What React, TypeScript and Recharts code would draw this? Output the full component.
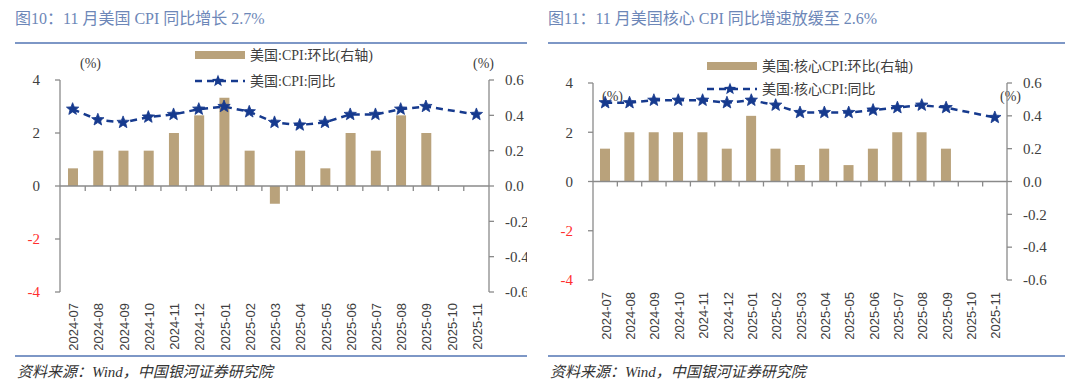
import React from 'react';
import {
  ComposedChart,
  Bar,
  Line,
  XAxis,
  YAxis,
  Legend,
  ReferenceLine,
} from 'recharts';

/* ------------------------------------------------------------------ */
/*  data                                                               */
/* ------------------------------------------------------------------ */
const months = [
  '2024-07', '2024-08', '2024-09', '2024-10', '2024-11', '2024-12',
  '2025-01', '2025-02', '2025-03', '2025-04', '2025-05', '2025-06',
  '2025-07', '2025-08', '2025-09', '2025-10', '2025-11',
];

// 美国 CPI 同比 (左轴) / 环比 (右轴)
const cpiYoY = [2.9, 2.5, 2.4, 2.6, 2.7, 2.9, 3.0, 2.8, 2.4, 2.3, 2.4, 2.7, 2.7, 2.9, 3.0, null, 2.7];
const cpiMoM = [0.1, 0.2, 0.2, 0.2, 0.3, 0.4, 0.5, 0.2, -0.1, 0.2, 0.1, 0.3, 0.2, 0.4, 0.3, null, null];

// 美国核心 CPI 同比 / 环比
const coreYoY = [3.2, 3.2, 3.3, 3.3, 3.3, 3.2, 3.3, 3.1, 2.8, 2.8, 2.8, 2.9, 3.0, 3.1, 3.0, null, 2.6];
const coreMoM = [0.2, 0.3, 0.3, 0.3, 0.3, 0.2, 0.4, 0.2, 0.1, 0.2, 0.1, 0.2, 0.3, 0.3, 0.2, null, null];

const leftTicks = [-4, -2, 0, 2, 4];
const rightTicks = [-0.6, -0.4, -0.2, 0, 0.2, 0.4, 0.6];

const titles = [
  '图10：11 月美国 CPI 同比增长 2.7%',
  '图11：11 月美国核心 CPI 同比增速放缓至 2.6%',
];
const legendNames = [
  ['美国:CPI:环比(右轴)', '美国:CPI:同比'],
  ['美国:核心CPI:环比(右轴)', '美国:核心CPI:同比'],
];
const sourceText = '资料来源：Wind，中国银河证券研究院';

/* ------------------------------------------------------------------ */
/*  styles                                                             */
/* ------------------------------------------------------------------ */
const BAR = '#b9a27b';
const LINE = '#163a8e';
const AXIS = '#8a8a8a';
const TEXT = '#404040';
const RED = '#ff2f2f';
const RULE = '#7d97c6';
const SERIF = '"Liberation Serif", "Noto Sans CJK SC", serif';
const SANS = '"Liberation Sans", Arial, sans-serif';

function starPath(cx: number, cy: number, R: number, r: number) {
  let d = '';
  for (let i = 0; i < 10; i++) {
    const a = -Math.PI / 2 + (i * Math.PI) / 5;
    const rad = i % 2 === 0 ? R : r;
    d += `${i === 0 ? 'M' : 'L'}${(cx + rad * Math.cos(a)).toFixed(2)},${(cy + rad * Math.sin(a)).toFixed(2)}`;
  }
  return d + 'Z';
}

function StarDot(props: any) {
  const { cx, cy, index } = props;
  if (cx == null || cy == null || props.value == null) return <g key={index} />;
  return <path key={index} d={starPath(cx, cy, 6.5, 2.8)} fill={LINE} stroke={LINE} strokeWidth={0.8} />;
}

interface PanelCfg {
  left: number;
  width: number;
  top: number;
  yLeftW: number;
  yRightW: number;
  xAxisH: number;
  labelTop: number;
  legendX: number;
  legendY: number;
  legendGap: number;
  pctL: [number, number];
  pctR: [number, number];
}

function Panel({
  cfg,
  title,
  names,
  yoy,
  mom,
}: {
  cfg: PanelCfg;
  title: string;
  names: string[];
  yoy: (number | null)[];
  mom: (number | null)[];
}) {
  const H = 356;
  const data = months.map((m, i) => ({ month: m, yoy: yoy[i], mom: mom[i] }));
  const plotW = cfg.width - cfg.yLeftW - cfg.yRightW;
  const plotH = H - cfg.top - cfg.xAxisH;
  const zeroY = cfg.top + plotH / 2;
  const bw = plotW / months.length;

  const XTick = (p: any) => {
    const { x, payload, index } = p;
    return (
      <g>
        <text
          transform={`translate(${x + 1},${cfg.labelTop}) rotate(-90)`}
          textAnchor="end"
          dy="0.35em"
          fontSize={13}
          fill={TEXT}
          fontFamily={SANS}
        >
          {payload.value}
        </text>
        {index > 0 && (
          <line x1={x - bw / 2} x2={x - bw / 2} y1={zeroY} y2={zeroY + 5} stroke={AXIS} strokeWidth={1.3} />
        )}
      </g>
    );
  };

  const LeftTick = (p: any) => {
    const { x, y, payload } = p;
    return (
      <text x={x} y={y} dy="0.35em" textAnchor="end" fontSize={15} fill={payload.value < 0 ? RED : TEXT} fontFamily={SERIF}>
        {payload.value}
      </text>
    );
  };

  const renderLegend = () => (
    <svg width={340} height={cfg.legendGap + 20} style={{ overflow: 'visible' }}>
      <rect x={0} y={10 - 4} width={50} height={8} fill={BAR} />
      <text x={55} y={10} dy="0.35em" fontSize={14} fill={TEXT} fontFamily={SERIF}>
        {names[0]}
      </text>
      <line x1={0} x2={50} y1={10 + cfg.legendGap} y2={10 + cfg.legendGap} stroke={LINE} strokeWidth={2.5} strokeDasharray="7 5" />
      <path d={starPath(23, 10 + cfg.legendGap, 6.5, 2.8)} fill={LINE} />
      <text x={55} y={10 + cfg.legendGap} dy="0.35em" fontSize={14} fill={TEXT} fontFamily={SERIF}>
        {names[1]}
      </text>
    </svg>
  );

  const pctStyle = (pos: [number, number]): React.CSSProperties => ({
    position: 'absolute',
    left: pos[0],
    top: pos[1] - 9,
    fontSize: 14,
    lineHeight: '18px',
    color: TEXT,
    fontFamily: SERIF,
    zIndex: 0,
  });

  return (
    <>
      <div
        style={{
          position: 'absolute',
          left: cfg.left,
          top: 9,
          fontSize: 16,
          lineHeight: '20px',
          color: '#6d87b8',
          fontFamily: SERIF,
          whiteSpace: 'nowrap',
        }}
      >
        {title}
      </div>
      <div style={{ position: 'absolute', left: cfg.left, top: 42, width: cfg.width, height: 2, background: RULE }} />
      <div style={{ position: 'absolute', left: cfg.left, top: 355, width: cfg.width, height: 2, background: RULE }} />
      <div
        style={{
          position: 'absolute',
          left: cfg.left + 2,
          top: 363,
          fontSize: 15,
          lineHeight: '18px',
          color: '#333',
          fontFamily: SERIF,
          fontStyle: 'italic',
          whiteSpace: 'nowrap',
        }}
      >
        {sourceText}
      </div>
      <div style={{ position: 'absolute', left: cfg.left, top: 0, width: cfg.width, height: H, overflow: 'hidden' }}>
        <div style={pctStyle(cfg.pctL)}>(%)</div>
        <div style={pctStyle(cfg.pctR)}>(%)</div>
        <ComposedChart
          width={cfg.width}
          height={H}
          data={data}
          margin={{ top: cfg.top, right: 0, bottom: 0, left: 0 }}
          style={{ fontFamily: SERIF }}
        >
          <XAxis
            dataKey="month"
            xAxisId={0}
            axisLine={false}
            tickLine={false}
            interval={0}
            height={cfg.xAxisH}
            tick={XTick}
          />
          <YAxis
            yAxisId="l"
            orientation="left"
            domain={[-4, 4]}
            ticks={leftTicks}
            width={cfg.yLeftW}
            stroke={AXIS}
            strokeWidth={1.3}
            tickSize={5}
            tickMargin={15}
            tick={LeftTick}
            allowDataOverflow
          />
          <YAxis
            yAxisId="r"
            orientation="right"
            domain={[-0.6, 0.6]}
            ticks={rightTicks}
            width={cfg.yRightW}
            stroke={AXIS}
            strokeWidth={1.3}
            tickSize={5}
            tickMargin={11}
            tick={{ fill: TEXT, fontSize: 15, fontFamily: SERIF }}
            tickFormatter={(v: number) => v.toFixed(1)}
            allowDataOverflow
          />
          <ReferenceLine y={0} yAxisId="l" stroke={AXIS} strokeWidth={1.3} />
          <Legend
            layout="vertical"
            align="center"
            verticalAlign="middle"
            content={renderLegend}
            wrapperStyle={{ left: cfg.legendX, top: cfg.legendY - 10, width: 340, height: cfg.legendGap + 20 }}
          />
          <Bar dataKey="mom" yAxisId="r" fill={BAR} barSize={10} isAnimationActive={false} legendType="rect" />
          <Line
            dataKey="yoy"
            yAxisId="l"
            type="linear"
            stroke={LINE}
            strokeWidth={2.5}
            strokeDasharray="7 5"
            dot={StarDot}
            activeDot={false}
            connectNulls
            isAnimationActive={false}
          />
        </ComposedChart>
      </div>
    </>
  );
}

const leftCfg: PanelCfg = {
  left: 15,
  width: 512,
  top: 80,
  yLeftW: 45,
  yRightW: 38,
  xAxisH: 64,
  labelTop: 303,
  legendX: 180,
  legendY: 55,
  legendGap: 26,
  pctL: [65, 64],
  pctR: [458, 64],
};

const rightCfg: PanelCfg = {
  left: 548,
  width: 517,
  top: 83,
  yLeftW: 45,
  yRightW: 58,
  xAxisH: 76,
  labelTop: 292,
  legendX: 159,
  legendY: 66,
  legendGap: 23,
  pctL: [54, 97],
  pctR: [452, 97],
};

export default function App() {
  return (
    <div style={{ position: 'absolute', left: 0, top: 0, width: 1080, height: 389, background: '#fff', overflow: 'hidden' }}>
      <Panel cfg={leftCfg} title={titles[0]} names={legendNames[0]} yoy={cpiYoY} mom={cpiMoM} />
      <Panel cfg={rightCfg} title={titles[1]} names={legendNames[1]} yoy={coreYoY} mom={coreMoM} />
    </div>
  );
}
